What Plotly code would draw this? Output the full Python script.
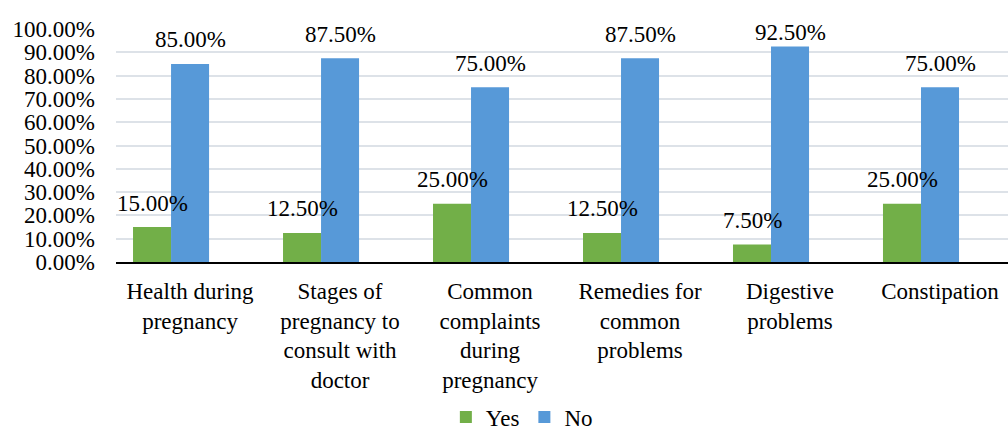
import plotly.graph_objects as go

categories = [
    "Health during<br>pregnancy",
    "Stages of<br>pregnancy to<br>consult with<br>doctor",
    "Common<br>complaints<br>during<br>pregnancy",
    "Remedies for<br>common<br>problems",
    "Digestive<br>problems",
    "Constipation",
]
yes_values = [0.15, 0.125, 0.25, 0.125, 0.075, 0.25]
no_values = [0.85, 0.875, 0.75, 0.875, 0.925, 0.75]
y_ticks = [i / 10 for i in range(11)]

FONT = "Liberation Serif"
GREEN = "#72af48"
BLUE = "#5799d8"
PLOT_H = 233  # plot height in px
LABEL_GAP = 24 / PLOT_H
LABEL_MAX = 0.983

fig = go.Figure()
fig.add_trace(go.Bar(name="Yes", x=categories, y=yes_values, marker=dict(color=GREEN, line=dict(width=0))))
fig.add_trace(go.Bar(name="No", x=categories, y=no_values, marker=dict(color=BLUE, line=dict(width=0))))

for vals, shift in ((yes_values, -19), (no_values, 19)):
    for c, v in zip(categories, vals):
        fig.add_annotation(
            x=c, y=min(v + LABEL_GAP, LABEL_MAX), text=f"{v*100:.2f}%", showarrow=False,
            xshift=shift, yanchor="middle",
            font=dict(family=FONT, size=23, color="#000000"),
        )

fig.update_layout(
    width=1008, height=434,
    margin=dict(l=116, r=0, t=29, b=172, autoexpand=False),
    paper_bgcolor="white", plot_bgcolor="white",
    barmode="group", bargap=0.493, bargroupgap=0,
    font=dict(family=FONT, size=23, color="#000000"),
    showlegend=True,
    legend=dict(
        orientation="h", x=0.455, xanchor="center", y=-0.665, yanchor="middle",
        font=dict(family=FONT, size=23), itemwidth=30, traceorder="normal",
    ),
    xaxis=dict(
        type="category", range=[-0.367, 5.58], automargin=False,
        showline=True, linecolor="#000000", linewidth=2,
        showgrid=False, ticks="", ticklabelshift=19, ticklabelstandoff=7,
        tickfont=dict(family=FONT, size=23), tickangle=0,
    ),
    yaxis=dict(
        range=[0, 1], tickvals=y_ticks, tickformat=".2%", automargin=False,
        showgrid=True, gridcolor="#dde2e8", gridwidth=2,
        zeroline=False, showline=False, ticks="",
        ticklabelstandoff=20,
        tickfont=dict(family=FONT, size=23),
    ),
)

fig.write_html(
    "out.html",
    config={"displayModeBar": False},
    post_script="document.body.style.margin='0';document.body.style.overflow='hidden';",
)
